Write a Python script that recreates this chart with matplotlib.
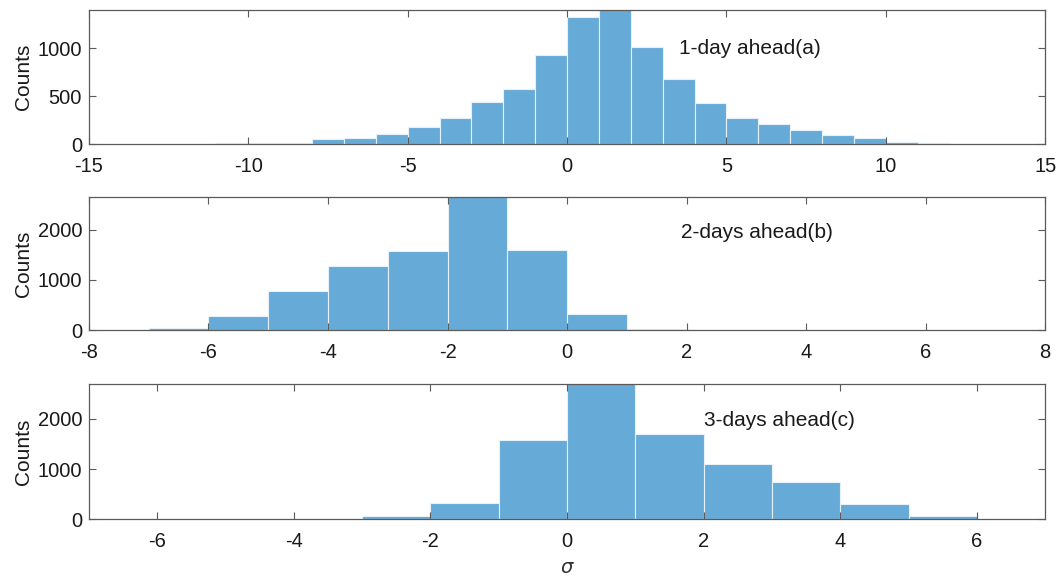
import matplotlib
matplotlib.use("Agg")
import matplotlib.pyplot as plt
import numpy as np

plt.rcParams['font.family'] = ['Liberation Sans', 'DejaVu Sans']

# Panel (a): 1-day ahead, bin edges -11..15 (width 1)
edges_a = list(range(-11, 16))
counts_a = [10, 18, 16, 55, 65, 108, 178, 280, 440, 579, 935, 1328, 1450, 1010,
            680, 435, 276, 216, 147, 94, 66, 24, 14, 7, 0, 7]

# Panel (b): 2-days ahead, bin edges -7..2
edges_b = list(range(-7, 3))
counts_b = [40, 285, 788, 1283, 1582, 2750, 1587, 322, 30]

# Panel (c): 3-days ahead, bin edges -3..6
edges_c = list(range(-3, 7))
counts_c = [55, 325, 1585, 2750, 1700, 1108, 735, 305, 70]

labels = ["1-day ahead(a)", "2-days ahead(b)", "3-days ahead(c)"]
xlims = [(-15, 15), (-8, 8), (-7, 7)]
ylims = [(0, 1400), (0, 2650), (0, 2700)]
xticks = [np.arange(-15, 16, 5), np.arange(-8, 9, 2), np.arange(-6, 7, 2)]
yticks = [[0, 500, 1000], [0, 1000, 2000], [0, 1000, 2000]]
text_pos = [(3.5, 1000), (1.9, 1950), (2.0, 1960)]

face = (0.4, 0.668, 0.845)
axcol = '#5a5a5a'

fig = plt.figure(figsize=(10.59, 5.8), dpi=100)
rects = [[0.084, 0.751, 0.903, 0.232],
         [0.084, 0.431, 0.903, 0.229],
         [0.084, 0.105, 0.903, 0.233]]

data = [(edges_a, counts_a), (edges_b, counts_b), (edges_c, counts_c)]
for i, (edges, counts) in enumerate(data):
    ax = fig.add_axes(rects[i])
    e = np.array(edges, dtype=float)
    ax.bar(e[:-1], counts, width=np.diff(e), align='edge', color=face,
           edgecolor='#e6f0f8', linewidth=0.8)
    ax.set_xlim(*xlims[i])
    ax.set_ylim(*ylims[i])
    ax.set_xticks(xticks[i])
    ax.set_yticks(yticks[i])
    ax.set_xticklabels([f"{t:g}" for t in xticks[i]])
    ax.tick_params(direction='in', top=True, right=True, length=5, width=0.8,
                   color=axcol, labelsize=14.5, labelcolor='#1a1a1a')
    ax.tick_params(axis='x', pad=9)
    ax.tick_params(axis='y', pad=5)
    for s in ax.spines.values():
        s.set_color(axcol)
        s.set_linewidth(0.9)
    ax.set_ylabel("Counts", fontsize=15, color='#1a1a1a', labelpad=3)
    ax.text(text_pos[i][0], text_pos[i][1], labels[i], fontsize=15,
            color='#1a1a1a', ha='left', va='center')
    if i == 2:
        ax.set_xlabel(r"$\sigma$", fontsize=14, color='#333333', labelpad=7)

fig.savefig("out.png", dpi=100)
